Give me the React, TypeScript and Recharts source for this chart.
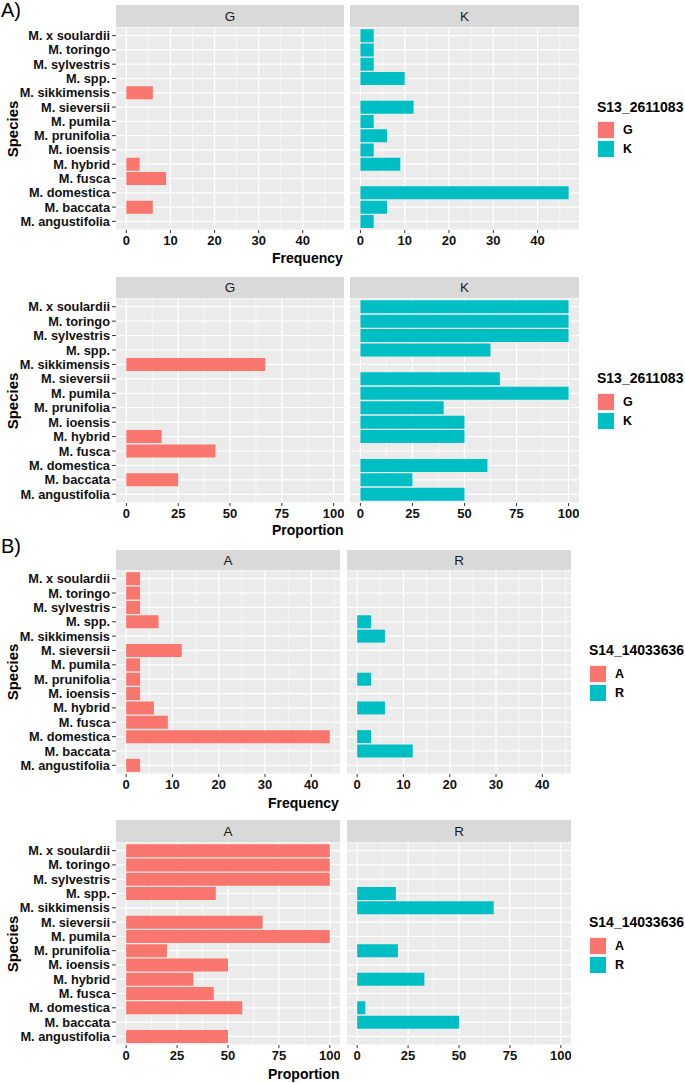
import { BarChart, Bar, XAxis, YAxis, CartesianGrid } from 'recharts';

// species, top to bottom as drawn
const species = [
  'M. x soulardii', 'M. toringo', 'M. sylvestris', 'M. spp.', 'M. sikkimensis',
  'M. sieversii', 'M. pumila', 'M. prunifolia', 'M. ioensis', 'M. hybrid',
  'M. fusca', 'M. domestica', 'M. baccata', 'M. angustifolia',
];

// A) S13_2611083
const freqG = [0, 0, 0, 0, 6, 0, 0, 0, 0, 3, 9, 0, 6, 0];
const freqK = [3, 3, 3, 10, 0, 12, 3, 6, 3, 9, 0, 47, 6, 3];
const propG = [0, 0, 0, 0, 67, 0, 0, 0, 0, 17, 43, 0, 25, 0];
const propK = [100, 100, 100, 62.5, 0, 67, 100, 40, 50, 50, 0, 61, 25, 50];

// B) S14_14033636
const freqA = [3, 3, 3, 7, 0, 12, 3, 3, 3, 6, 9, 44, 0, 3];
const freqR = [0, 0, 0, 3, 6, 0, 0, 3, 0, 6, 0, 3, 12, 0];
const propA = [100, 100, 100, 44, 0, 67, 100, 20, 50, 33, 43, 57, 0, 50];
const propR = [0, 0, 0, 19, 67, 0, 0, 20, 0, 33, 0, 4, 50, 0];

const freqTicks = [0, 10, 20, 30, 40];
const freqMinor = [5, 15, 25, 35, 45];
const propTicks = [0, 25, 50, 75, 100];
const propMinor = [12.5, 37.5, 62.5, 87.5];

const RED = '#F8766D';
const TEAL = '#00BFC4';
const FONT = '"Liberation Sans", Arial, sans-serif';

const toRows = (vals: number[]) => species.map((s, i) => ({ species: s, value: vals[i] }));

interface FacetProps {
  x: number; top: number; width: number; height: number;
  vals: number[]; color: string;
  domain: [number, number]; ticks: number[]; minors: number[];
  showY: boolean;
}

const Facet = ({ x, top, width, height, vals, color, domain, ticks, minors, showY }: FacetProps) => {
  const yW = showY ? x : 0;
  return (
    <div style={{ position: 'absolute', left: showY ? 0 : x, top }}>
      <BarChart
        width={yW + width} height={height + 26} data={toRows(vals)} layout="vertical"
        margin={{ top: 0, right: 0, bottom: 0, left: 0 }} barCategoryGap="5%"
      >
        <CartesianGrid fill="#EBEBEB" stroke="#fff" strokeWidth={0.6} horizontal={false} verticalValues={minors} />
        <CartesianGrid stroke="#fff" strokeWidth={1.2} verticalValues={ticks} />
        <XAxis
          type="number" dataKey="value" domain={domain} ticks={ticks} allowDataOverflow
          axisLine={false} tickSize={3} tickMargin={3} interval={0} height={26}
          tickLine={{ stroke: '#333' }}
          tick={{ fontSize: 13, fontWeight: 'bold', fill: '#111', fontFamily: FONT }}
        />
        <YAxis
          type="category" dataKey="species" width={yW} hide={!showY} interval={0}
          axisLine={false} tickSize={4} tickMargin={2} padding={{ top: 1.5, bottom: 1.5 }}
          tickLine={{ stroke: '#333' }}
          tick={{ fontSize: 12.8, fontWeight: 'bold', fill: '#111', fontFamily: FONT }}
        />
        <Bar dataKey="value" fill={color} isAnimationActive={false} />
      </BarChart>
    </div>
  );
};

interface RowProps {
  stripTop: number; plotTop: number; plotH: number;
  leftX: number; leftW: number; rightX: number; rightW: number;
  names: [string, string]; left: number[]; right: number[];
  domain: [number, number]; ticks: number[]; minors: number[];
  xTitle: string; titleX: number; titleY: number;
  legendTitle: string; legendX: number; legendTitleY: number; keysTop: number;
}

const Strip = ({ x, top, width, height, text }: { x: number; top: number; width: number; height: number; text: string }) => (
  <div style={{
    position: 'absolute', left: x, top, width, height, background: '#D9D9D9',
    display: 'flex', alignItems: 'center', justifyContent: 'center',
    fontFamily: FONT, fontSize: 13.5, color: '#1A1A1A',
  }}>{text}</div>
);

const Row = (p: RowProps) => (
  <>
    <Strip x={p.leftX} top={p.stripTop} width={p.leftW} height={p.plotTop - p.stripTop} text={p.names[0]} />
    <Strip x={p.rightX} top={p.stripTop} width={p.rightW} height={p.plotTop - p.stripTop} text={p.names[1]} />
    <Facet x={p.leftX} top={p.plotTop} width={p.leftW} height={p.plotH} vals={p.left} color={RED}
      domain={p.domain} ticks={p.ticks} minors={p.minors} showY />
    <Facet x={p.rightX} top={p.plotTop} width={p.rightW} height={p.plotH} vals={p.right} color={TEAL}
      domain={p.domain} ticks={p.ticks} minors={p.minors} showY={false} />
    <div style={{
      position: 'absolute', left: 12, top: p.plotTop + p.plotH / 2,
      transform: 'translate(-50%, -50%) rotate(-90deg)',
      fontFamily: FONT, fontSize: 15, fontWeight: 'bold', color: '#000',
    }}>Species</div>
    <div style={{
      position: 'absolute', left: p.titleX, top: p.titleY - 7,
      fontFamily: FONT, fontSize: 14, fontWeight: 'bold', color: '#000', lineHeight: '15px',
    }}>{p.xTitle}</div>
    <div style={{
      position: 'absolute', left: p.legendX, top: p.legendTitleY - 8,
      fontFamily: FONT, fontSize: 14, fontWeight: 'bold', color: '#000', lineHeight: '16px',
    }}>{p.legendTitle}</div>
    {[RED, TEAL].map((c, i) => (
      <div key={c} style={{ position: 'absolute', left: p.legendX, top: p.keysTop + i * 19, display: 'flex', alignItems: 'center' }}>
        <div style={{ width: 16, height: 16, background: c, border: '1px solid #f2f2f2' }} />
        <span style={{ marginLeft: 8, fontFamily: FONT, fontSize: 12.5, fontWeight: 'bold', color: '#000' }}>{p.names[i]}</span>
      </div>
    ))}
  </>
);

export default function App() {
  return (
    <div style={{ position: 'absolute', left: 0, top: 0, width: 685, height: 1083, background: '#fff', overflow: 'hidden' }}>
      <div style={{ position: 'absolute', left: 1, top: -1, fontFamily: FONT, fontSize: 20, color: '#000' }}>A)</div>
      <div style={{ position: 'absolute', left: 1, top: 535, fontFamily: FONT, fontSize: 20, color: '#000' }}>B)</div>
      <Row stripTop={5} plotTop={27} plotH={203} leftX={116} leftW={228} rightX={350} rightW={229}
        names={['G', 'K']} left={freqG} right={freqK} domain={[-2.35, 49.35]} ticks={freqTicks} minors={freqMinor}
        xTitle="Frequency" titleX={272} titleY={258}
        legendTitle="S13_2611083" legendX={597} legendTitleY={107} keysTop={121} />
      <Row stripTop={277} plotTop={298} plotH={205} leftX={116} leftW={228} rightX={350} rightW={229}
        names={['G', 'K']} left={propG} right={propK} domain={[-5, 105]} ticks={propTicks} minors={propMinor}
        xTitle="Proportion" titleX={272} titleY={530}
        legendTitle="S13_2611083" legendX={597} legendTitleY={378} keysTop={393} />
      <Row stripTop={550} plotTop={570} plotH={204} leftX={116} leftW={224} rightX={347} rightW={224}
        names={['A', 'R']} left={freqA} right={freqR} domain={[-2.2, 46.2]} ticks={freqTicks} minors={freqMinor}
        xTitle="Frequency" titleX={268} titleY={803}
        legendTitle="S14_14033636" legendX={589} legendTitleY={650} keysTop={665} />
      <Row stripTop={820} plotTop={842} plotH={203} leftX={116} leftW={224} rightX={347} rightW={224}
        names={['A', 'R']} left={propA} right={propR} domain={[-5, 105]} ticks={propTicks} minors={propMinor}
        xTitle="Proportion" titleX={268} titleY={1074}
        legendTitle="S14_14033636" legendX={589} legendTitleY={922} keysTop={937} />
    </div>
  );
}
